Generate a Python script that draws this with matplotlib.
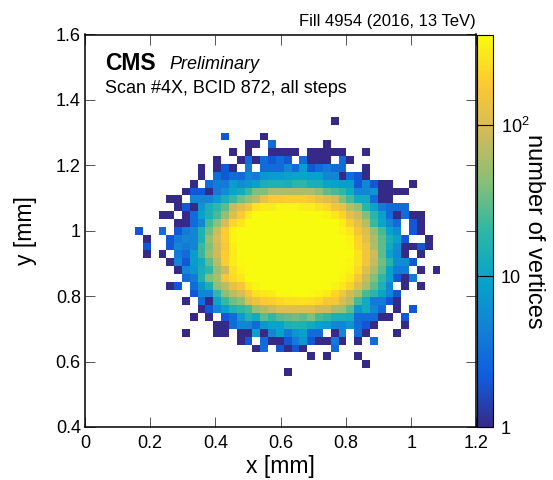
from matplotlib import pyplot as plt
from matplotlib.colors import LinearSegmentedColormap, LogNorm
import numpy as np

# vertices per bin, top row first, 0 = empty bin
COUNTS = [
    [0,0,0,0,0,0,0,0,0,0, 0,0,0,0,0,0,0,0,0,0, 0,0,0,0,0,1,0,0,0,0, 0,0,0,0,0,0,0,0,0],
    [0,0,0,0,0,0,0,0,0,0, 0,0,0,0,0,0,0,0,0,0, 0,0,0,0,0,0,0,0,0,0, 0,0,0,0,0,0,0,0,0],
    [0,0,0,0,0,0,0,0,0,0, 0,2,0,0,0,0,1,0,0,0, 0,0,0,0,0,0,0,0,0,0, 0,0,0,0,0,0,0,0,0],
    [0,0,0,0,0,0,0,0,0,0, 0,0,0,0,1,1,0,3,0,0, 0,0,0,0,1,0,0,0,0,0, 0,0,0,0,0,0,0,0,0],
    [0,0,0,0,0,0,0,0,0,0, 0,0,1,0,1,0,0,1,1,1, 1,0,1,1,1,1,1,0,0,1, 0,0,0,0,0,0,0,0,0],
    [0,0,0,0,0,0,0,0,0,0, 1,0,0,1,3,1,3,2,3,2, 0,3,1,1,1,0,3,1,0,0, 0,0,0,0,0,0,0,0,0],
    [0,0,0,0,0,0,0,0,1,0, 1,2,1,0,4,0,3,3,3,5, 3,8,2,3,4,3,3,0,0,1, 0,0,0,0,0,0,0,0,0],
    [0,0,0,0,0,0,0,0,1,0, 3,2,3,3,5,4,7,8,8,9, 10,10,9,9,5,5,1,3,2,1, 0,0,0,0,0,0,0,0,0],
    [0,0,0,0,0,0,0,1,0,3, 4,4,8,6,7,9,14,15,15,14, 18,18,14,14,10,9,8,8,2,5, 2,1,1,0,0,1,0,0,0],
    [0,0,0,0,0,0,1,2,2,1, 4,6,10,12,22,40,40,65,65,65, 65,65,65,45,30,25,20,12,5,5, 7,1,1,1,1,0,0,0,0],
    [0,0,0,0,1,1,0,5,5,5, 8,14,22,35,50,70,130,180,180,200, 200,200,170,130,110,90,40,25,12,12, 3,1,1,0,0,0,0,0,0],
    [0,0,0,0,0,1,2,1,7,14, 20,30,80,110,150,280,310,320,370,370, 370,330,330,280,240,150,130,70,50,18, 10,4,3,3,3,0,0,0,0],
    [0,0,0,1,1,0,1,3,9,15, 25,50,110,180,320,400,400,400,400,400, 400,400,400,400,350,300,220,120,90,40, 18,9,3,1,3,1,1,0,0],
    [0,0,0,0,0,1,1,3,5,25, 45,100,230,300,400,400,400,400,400,400, 400,400,400,400,400,400,330,200,120,70, 22,10,5,3,0,2,1,0,0],
    [2,0,0,3,0,2,4,5,15,35, 90,200,350,400,400,400,400,400,400,400, 400,400,400,400,400,400,350,300,160,110, 50,25,9,6,0,2,1,0,0],
    [0,1,0,0,2,4,5,5,15,50, 100,200,350,400,400,400,400,400,400,400, 400,400,400,400,400,400,400,350,220,120, 60,30,14,9,2,0,0,1,0],
    [0,2,0,0,2,5,4,5,22,40, 90,170,330,400,400,400,400,400,400,400, 400,400,400,400,400,400,400,370,230,150, 65,30,12,6,1,1,2,1,0],
    [0,1,0,1,0,4,3,8,22,50, 90,200,320,400,400,400,400,400,400,400, 400,400,400,400,400,400,400,400,280,150, 90,30,9,5,1,0,1,0,0],
    [0,0,0,0,1,5,2,8,12,30, 70,200,320,380,400,400,400,400,400,400, 400,400,400,400,400,400,400,370,280,150, 80,35,17,6,6,2,0,0,0],
    [0,0,0,0,0,1,5,7,14,20, 50,90,260,350,400,400,400,400,400,400, 400,400,400,400,400,400,380,360,240,110, 60,30,9,4,4,0,1,0,1],
    [0,0,0,0,0,0,3,4,15,40, 60,160,250,300,400,400,400,400,400,400, 400,400,400,400,400,400,350,300,170,80, 40,20,9,2,1,4,0,0,0],
    [0,0,0,0,1,2,0,3,7,14, 45,70,130,170,300,350,400,400,400,400, 400,400,400,400,400,350,300,220,110,65, 30,15,5,0,1,0,1,0,0],
    [0,0,0,0,0,0,0,2,5,5, 20,45,75,100,170,270,300,320,380,380, 400,400,380,350,320,230,150,90,60,25, 18,10,5,2,0,0,0,0,0],
    [0,0,0,0,0,0,1,0,3,1, 10,22,35,45,110,140,180,200,230,260, 260,270,260,230,170,170,100,70,25,12, 4,4,2,1,0,0,0,0,0],
    [0,0,0,0,0,0,0,0,1,2, 5,9,16,20,25,50,65,85,110,110, 110,110,110,90,90,60,55,30,7,12, 5,3,0,1,0,2,0,0,0],
    [0,0,0,0,0,0,0,1,0,1, 0,2,3,8,16,12,30,20,28,32, 35,30,40,25,20,14,14,13,3,3, 3,1,1,0,2,0,0,0,0],
    [0,0,0,0,0,0,0,0,0,0, 1,1,3,5,5,3,7,10,10,15, 16,15,12,9,8,5,5,7,3,2, 1,0,0,0,1,0,0,0,0],
    [0,0,0,0,0,0,1,0,0,0, 1,1,0,1,1,9,1,5,9,4, 7,9,3,3,0,1,5,0,3,1, 0,0,0,1,0,0,0,0,0],
    [0,0,0,0,0,0,0,0,0,0, 0,0,0,1,2,0,3,1,1,2, 4,7,2,1,1,4,1,0,1,0, 3,0,0,0,0,0,0,0,0],
    [0,0,0,0,0,0,0,0,0,0, 0,0,0,0,0,1,3,0,2,1, 2,1,0,0,0,3,0,0,0,0, 0,0,0,0,0,0,0,0,0],
    [0,0,0,0,0,0,0,0,0,0, 0,0,0,0,0,0,0,0,0,0, 0,0,1,0,1,0,0,0,1,0, 0,0,0,0,0,0,0,0,0],
    [0,0,0,0,0,0,0,0,0,0, 0,0,0,0,0,0,0,0,0,0, 0,0,0,0,0,0,0,0,0,1, 0,0,0,0,0,0,0,0,0],
    [0,0,0,0,0,0,0,0,0,0, 0,0,0,0,0,0,0,0,0,1, 0,0,0,0,0,0,0,0,0,0, 0,0,0,0,0,0,0,0,0],
]
X_TICKS = [0, 0.2, 0.4, 0.6, 0.8, 1, 1.2]
X_TICK_LABELS = ["0", "0.2", "0.4", "0.6", "0.8", "1", "1.2"]
Y_TICKS = [0.4, 0.6, 0.8, 1, 1.2, 1.4, 1.6]
Y_TICK_LABELS = ["0.4", "0.6", "0.8", "1", "1.2", "1.4", "1.6"]
Z_TICKS = [1, 10, 100]
Z_TICK_LABELS = ["1", "10", "$10^{2}$"]

# ROOT kBird palette
BIRD = [(0.2082, 0.1664, 0.5293), (0.0592, 0.3599, 0.8684), (0.0780, 0.5041, 0.8385),
        (0.0232, 0.6419, 0.7914), (0.1802, 0.7178, 0.6425), (0.5301, 0.7492, 0.4662),
        (0.8186, 0.7328, 0.3499), (0.9956, 0.7862, 0.1968), (0.9764, 0.9832, 0.0539)]

W, H = 553, 480
BIN = 0.024
X_START = 0.1533
Y_TOP = 1.348


def main():
    plt.rcParams["font.family"] = ["Liberation Sans", "DejaVu Sans"]
    plt.rcParams["mathtext.default"] = "regular"

    fig = plt.figure(figsize=(W / 100, H / 100), dpi=100)
    ax = fig.add_axes([85 / W, 1 - 427 / H, 391.5 / W, 392.5 / H])
    cax = fig.add_axes([476.7 / W, 1 - 427 / H, 16 / W, 392.5 / H])

    counts = np.array(COUNTS, dtype=float)
    rows, cols = counts.shape
    x_edges = X_START + BIN * np.arange(cols + 1)
    y_edges = Y_TOP - BIN * np.arange(rows + 1)
    cmap = LinearSegmentedColormap.from_list("bird", BIRD, N=255)
    mesh = ax.pcolormesh(x_edges, y_edges, np.ma.masked_equal(counts, 0),
                         cmap=cmap, norm=LogNorm(1, 400), linewidth=0, antialiased=False)

    ax.set_xlim(0, 1.2)
    ax.set_ylim(0.4, 1.6)
    ax.set_xticks(X_TICKS, X_TICK_LABELS, fontsize=13)
    ax.set_yticks(Y_TICKS, Y_TICK_LABELS, fontsize=13)
    ax.tick_params(direction="in", top=True, right=True, length=7.5, width=0.7,
                   color="#555555", pad=3)
    ax.tick_params(axis="x", pad=6)
    for spine in ax.spines.values():
        spine.set_linewidth(1.1)
    ax.set_xlabel("x [mm]", fontsize=16.5)
    ax.xaxis.set_label_coords(0.5, -0.072)
    ax.set_ylabel("y [mm]", fontsize=16.5)
    ax.yaxis.set_label_coords(-0.122, 0.5)

    bar = fig.colorbar(mesh, cax=cax)
    bar.minorticks_off()
    bar.set_ticks(Z_TICKS, labels=Z_TICK_LABELS, fontsize=13)
    bar.ax.tick_params(direction="in", length=11.5, width=0.8, color="black", pad=6)
    bar.outline.set_linewidth(0.8)
    fig.text(534 / W, 1 - 231 / H, "number of vertices", rotation=270, fontsize=17,
             ha="center", va="center")

    fig.text(105 / W, 1 - 70 / H, "CMS", fontsize=16.5, fontweight="bold")
    fig.text(169 / W, 1 - 69 / H, "Preliminary", fontsize=13, fontstyle="italic")
    fig.text(105 / W, 1 - 93 / H, "Scan #4X, BCID 872, all steps", fontsize=13)
    fig.text(476 / W, 1 - 26 / H, "Fill 4954 (2016, 13 TeV)", fontsize=12, ha="right")

    fig.savefig("out.png", dpi=100)


if __name__ == '__main__':
    main()
